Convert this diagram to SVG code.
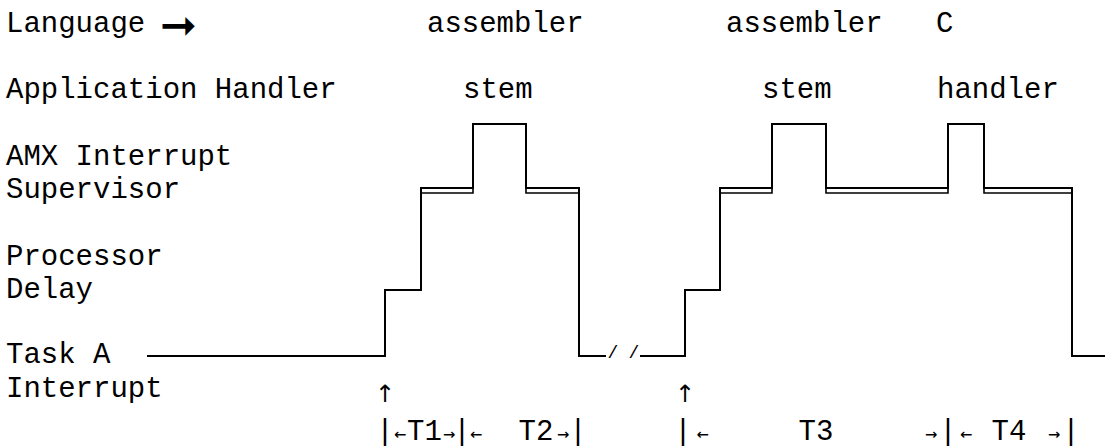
<svg xmlns="http://www.w3.org/2000/svg" width="1105" height="447" viewBox="0 0 1105 447">
<style>
  .t { font-family: "Liberation Mono", "Courier New", monospace; font-size: 29px; fill: #000; }
  .c { text-anchor: middle; }
  .a { font-family: "DejaVu Sans Mono", monospace; font-size: 20px; }
  .u { font-family: "DejaVu Sans", sans-serif; font-size: 24px; fill: #000; text-anchor: middle; }
  .w { fill: none; stroke: #000; stroke-width: 2; stroke-linejoin: miter; stroke-linecap: square; }
  .w2 { fill: none; stroke: #000; stroke-width: 1.6; stroke-linecap: square; }
  .sym { font-family: "DejaVu Sans", sans-serif; font-size: 44px; fill: #000; }
</style>
<rect width="1105" height="447" fill="#fff"/>
<g id="labels">
  <text class="t" x="6" y="32">Language</text>
  <text class="sym" x="160" y="40">➞</text>
  <text class="t" x="6" y="98">Application Handler</text>
  <text class="t" x="6" y="165">AMX Interrupt</text>
  <text class="t" x="6" y="198">Supervisor</text>
  <text class="t" x="6" y="265">Processor</text>
  <text class="t" x="6" y="298">Delay</text>
  <text class="t" x="6" y="363">Task A</text>
  <text class="t" x="6" y="397">Interrupt</text>
</g>
<g id="lang-labels">
  <text class="t" x="427" y="32">assembler</text>
  <text class="t" x="726" y="32">assembler</text>
  <text class="t" x="936" y="32">C</text>
  <text class="t" x="463" y="98">stem</text>
  <text class="t" x="762" y="98">stem</text>
  <text class="t" x="937" y="98">handler</text>
</g>
<g id="connectors">
  <path class="w" d="M148,356 H385 V290 H421 V188 H473 V124 H526 V188 H579 V356 H605"/>
  <path class="w2" d="M421,193 H473 V188 M526,188 V193 H579"/>
  <path class="w" d="M641,356 H685 V290 H720 V188 H772 V124 H826 V188 H948 V124 H984 V188 H1072 V356 H1105"/>
  <path class="w2" d="M720,193 H772 V188 M826,188 V193 H948 V188 M984,188 V193 H1072"/>
  <text class="t c" x="613" y="358" style="font-size:18px">/</text>
  <text class="t c" x="634" y="358" style="font-size:18px">/</text>
</g>
<g id="markers">
  <text class="u" x="385" y="402">↑</text>
  <text class="u" x="685" y="402">↑</text>
</g>
<g id="timing">
  <text class="t c" y="440"><tspan x="385">|</tspan><tspan class="a" x="400">←</tspan><tspan x="424.5">T1</tspan><tspan class="a" x="449">→</tspan><tspan x="462">|</tspan><tspan class="a" x="476">←</tspan><tspan x="536">T2</tspan><tspan class="a" x="563">→</tspan><tspan x="578">|</tspan></text>
  <text class="t c" y="440"><tspan x="683">|</tspan><tspan class="a" x="702.5">←</tspan><tspan x="816">T3</tspan><tspan class="a" x="931">→</tspan><tspan x="948">|</tspan><tspan class="a" x="966">←</tspan><tspan x="1009">T4</tspan><tspan class="a" x="1054">→</tspan><tspan x="1071">|</tspan></text>
</g>
</svg>
